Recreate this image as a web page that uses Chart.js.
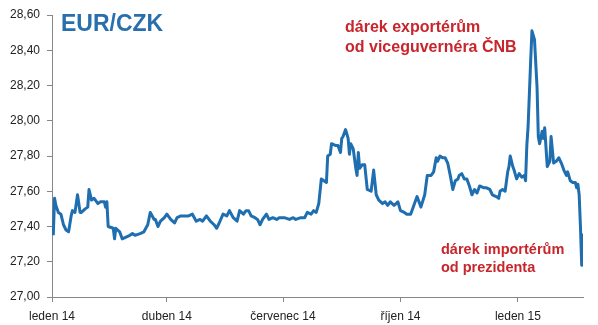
<!DOCTYPE html>
<html>
<head>
<meta charset="utf-8">
<script src="https://cdn.jsdelivr.net/npm/chart.js@4"></script>
<style>
  body { margin: 0; background: #fff; }
  #wrap { width: 598px; height: 325px; }
</style>
</head>
<body>
<div id="wrap"><canvas id="graph" width="598" height="325"></canvas></div>
<script>
// Days since 1 Jan 2014 (x) and EUR/CZK rate (y)
var days = [1, 2, 3, 5, 7, 9, 11, 13, 15, 16,
    18, 20, 22, 23, 26, 28, 29, 31, 33, 36,
    38, 41, 42, 43, 44, 48, 49, 50, 53, 55,
    58, 61, 63, 65, 69, 72, 75, 77, 80, 81,
    83, 85, 88, 90, 93, 96, 98, 101, 105, 107,
    110, 113, 116, 118, 121, 124, 127, 129, 131, 134,
    137, 139, 142, 145, 147, 150, 152, 154, 156, 159,
    161, 163, 165, 168, 170, 173, 176, 178, 182, 186,
    189, 191, 195, 198, 200, 203, 205, 207, 209, 211,
    213, 215, 216, 218, 219, 222, 224, 226, 227, 228,
    230, 232, 233, 234, 236, 238, 239, 240, 241, 243,
    245, 247, 250, 252, 254, 256, 259, 261, 263, 265,
    268, 271, 273, 276, 278, 281, 284, 286, 289, 292,
    294, 297, 299, 301, 302, 304, 306, 308, 310, 312,
    314, 316, 318, 319, 321, 323, 325, 327, 329, 331,
    333, 335, 338, 340, 343, 345, 348, 350, 351, 353,
    355, 357, 358, 359, 361, 362, 364, 366, 368, 370,
    371, 372, 373, 375, 376, 378, 380, 381, 382, 384,
    385, 386, 388, 390, 391, 393, 395, 397, 399, 401,
    403, 404, 406, 408, 410, 411, 412, 413, 414, 415,
    416];
var eurCzk = [27.35, 27.56, 27.52, 27.48, 27.47, 27.41, 27.38, 27.37, 27.46, 27.49,
    27.48, 27.58, 27.48, 27.48, 27.50, 27.51, 27.61, 27.55, 27.56, 27.53,
    27.54, 27.54, 27.51, 27.54, 27.40, 27.39, 27.33, 27.39, 27.37, 27.33,
    27.34, 27.35, 27.36, 27.35, 27.36, 27.37, 27.41, 27.48, 27.44, 27.44,
    27.40, 27.43, 27.45, 27.47, 27.44, 27.42, 27.45, 27.46, 27.46, 27.46,
    27.47, 27.43, 27.44, 27.43, 27.46, 27.43, 27.41, 27.39, 27.42, 27.47,
    27.46, 27.49, 27.45, 27.43, 27.49, 27.47, 27.49, 27.49, 27.46, 27.45,
    27.44, 27.41, 27.44, 27.47, 27.44, 27.45, 27.44, 27.45, 27.45, 27.44,
    27.45, 27.44, 27.45, 27.45, 27.48, 27.47, 27.49, 27.48, 27.53, 27.67,
    27.66, 27.65, 27.80, 27.81, 27.87, 27.86, 27.86, 27.82, 27.90, 27.91,
    27.95, 27.90, 27.81, 27.87, 27.84, 27.73, 27.69, 27.82, 27.73, 27.75,
    27.75, 27.61, 27.60, 27.72, 27.58, 27.55, 27.53, 27.54, 27.52, 27.54,
    27.52, 27.54, 27.49, 27.48, 27.47, 27.47, 27.53, 27.57, 27.51, 27.58,
    27.69, 27.69, 27.71, 27.79, 27.77, 27.80, 27.79, 27.79, 27.76, 27.69,
    27.61, 27.66, 27.67, 27.69, 27.70, 27.67, 27.67, 27.63, 27.58, 27.61,
    27.59, 27.63, 27.62, 27.62, 27.61, 27.58, 27.57, 27.56, 27.60, 27.61,
    27.60, 27.71, 27.74, 27.80, 27.74, 27.72, 27.67, 27.70, 27.68, 27.69,
    27.66, 27.86, 27.97, 28.34, 28.51, 28.46, 28.19, 27.91, 27.87, 27.94,
    27.90, 27.96, 27.74, 27.77, 27.91, 27.76, 27.77, 27.79, 27.76, 27.72,
    27.69, 27.71, 27.66, 27.65, 27.65, 27.62, 27.64, 27.58, 27.40, 27.18,
    27.36];

// Axis ticks
var xTickDays = [0, 90, 181, 273, 365];
var xTickLabels = ['leden 14', 'duben 14', 'červenec 14', 'říjen 14', 'leden 15'];
var yTickValues = [27.0, 27.2, 27.4, 27.6, 27.8, 28.0, 28.2, 28.4, 28.6];

var points = days.map(function (d, i) {
    return { x: d, y: eurCzk[i] };
});

// Title and the two red notes
var notes = {
    id: 'notes',
    afterDraw: function (chart) {
        var ctx = chart.ctx;
        ctx.save();
        ctx.textAlign = 'left';
        ctx.textBaseline = 'alphabetic';
        ctx.fillStyle = '#2a6fad';
        ctx.font = 'bold 23px "Liberation Sans", Arial, sans-serif';
        ctx.fillText('EUR/CZK', 61, 31);
        ctx.fillStyle = '#c8252c';
        ctx.font = 'bold 16px "Liberation Sans", Arial, sans-serif';
        ctx.fillText('dárek exportérům', 345, 32);
        ctx.fillText('od viceguvernéra ČNB', 345, 52);
        ctx.font = 'bold 14.5px "Liberation Sans", Arial, sans-serif';
        ctx.fillText('dárek importérům', 441, 254);
        ctx.fillText('od prezidenta', 441, 272);
        ctx.restore();
    }
};

var axisGrey = '#878787';
var tickFont = { family: '"Liberation Sans", Arial, sans-serif', size: 12 };

new Chart(document.getElementById('graph'), {
    type: 'line',
    data: {
        datasets: [{
            data: points,
            borderColor: '#1f6eb0',
            borderWidth: 3,
            borderJoinStyle: 'round',
            pointRadius: 0,
            tension: 0,
            fill: false
        }]
    },
    options: {
        responsive: false,
        animation: false,
        devicePixelRatio: 1,
        layout: { padding: { top: 15, right: 15, left: 0, bottom: 0 } },
        plugins: {
            legend: { display: false },
            tooltip: { enabled: false }
        },
        scales: {
            x: {
                type: 'linear',
                min: 0,
                max: 416,
                afterBuildTicks: function (scale) {
                    scale.ticks = xTickDays.map(function (v) { return { value: v }; });
                },
                afterFit: function (scale) { scale.height = 28; },
                grid: { drawOnChartArea: false, color: axisGrey, tickLength: 5 },
                border: { color: axisGrey },
                ticks: {
                    autoSkip: false,
                    maxRotation: 0,
                    padding: 7,
                    color: '#222',
                    font: tickFont,
                    callback: function (value) {
                        return xTickLabels[xTickDays.indexOf(value)];
                    }
                }
            },
            y: {
                min: 27,
                max: 28.6,
                afterBuildTicks: function (scale) {
                    scale.ticks = yTickValues.map(function (v) { return { value: v }; });
                },
                afterFit: function (scale) { scale.width = 52; },
                grid: { drawOnChartArea: false, color: axisGrey, tickLength: 5 },
                border: { color: axisGrey },
                ticks: {
                    padding: 7,
                    color: '#222',
                    font: tickFont,
                    callback: function (value) {
                        return value.toFixed(2).replace('.', ',');
                    }
                }
            }
        }
    },
    plugins: [notes]
});
</script>
</body>
</html>
